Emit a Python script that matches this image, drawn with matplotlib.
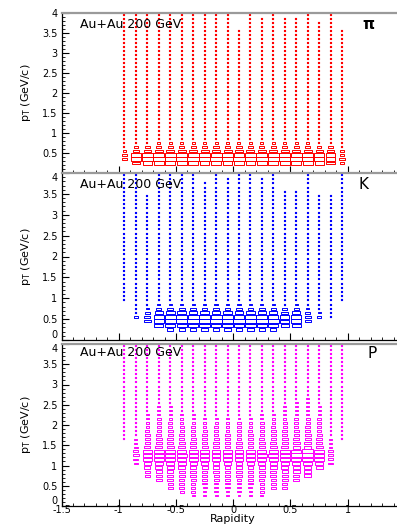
import numpy as np
import matplotlib
matplotlib.use("Agg")
import matplotlib.pyplot as plt
from matplotlib.patches import Rectangle
from matplotlib.collections import PatchCollection
from matplotlib.path import Path

# bins: rapidity -1..1 (0.1 wide), pT 0..4 (0.1 wide)
y_centers = [-0.95, -0.85, -0.75, -0.65, -0.55, -0.45, -0.35, -0.25, -0.15, -0.05,
             0.05, 0.15, 0.25, 0.35, 0.45, 0.55, 0.65, 0.75, 0.85, 0.95]
pt_centers = [0.05, 0.15, 0.25, 0.35, 0.45, 0.55, 0.65, 0.75, 0.85, 0.95,
              1.05, 1.15, 1.25, 1.35, 1.45, 1.55, 1.65, 1.75, 1.85, 1.95,
              2.05, 2.15, 2.25, 2.35, 2.45, 2.55, 2.65, 2.75, 2.85, 2.95,
              3.05, 3.15, 3.25, 3.35, 3.45, 3.55, 3.65, 3.75, 3.85, 3.95]

# box size (fraction of the bin) along pT for a central rapidity column
pion_profile = [0, 0, 0.85, 1.0, 0.95, 0.7, 0.45, 0.26, 0.2, 0.18,
                0.18, 0.17, 0.17, 0.17, 0.16, 0.16, 0.16, 0.16, 0.15, 0.15,
                0.15, 0.15, 0.15, 0.15, 0.14, 0.14, 0.14, 0.14, 0.14, 0.14,
                0.14, 0.14, 0.13, 0.13, 0.13, 0.13, 0.13, 0.13, 0.13, 0.13]
kaon_profile = [0, 0, 0.55, 0.9, 1.0, 0.95, 0.75, 0.5, 0.28, 0.2,
                0.19, 0.19, 0.18, 0.18, 0.18, 0.17, 0.17, 0.17, 0.16, 0.16,
                0.16, 0.16, 0.15, 0.15, 0.15, 0.15, 0.15, 0.14, 0.14, 0.14,
                0.14, 0.14, 0.14, 0.14, 0.13, 0.13, 0.13, 0.13, 0.13, 0.13]
proton_profile = [0, 0, 0.3, 0.38, 0.42, 0.45, 0.5, 0.52, 0.55, 0.6,
                  0.7, 0.85, 0.9, 0.85, 0.6, 0.55, 0.5, 0.45, 0.4, 0.35,
                  0.32, 0.3, 0.28, 0.26, 0.25, 0.24, 0.23, 0.22, 0.21, 0.2,
                  0.2, 0.19, 0.19, 0.18, 0.18, 0.17, 0.17, 0.16, 0.16, 0.16]

# per rapidity column: lowest pT edge, highest pT edge, size scale
pion_lo = [0.3, 0.2, 0.2, 0.2, 0.2, 0.2, 0.2, 0.2, 0.2, 0.2,
           0.2, 0.2, 0.2, 0.2, 0.2, 0.2, 0.2, 0.2, 0.2, 0.2]
pion_hi = [4.0, 4.0, 4.0, 4.0, 4.0, 4.0, 4.0, 4.0, 4.0, 4.0,
           3.6, 4.0, 3.9, 4.0, 3.9, 3.9, 4.0, 3.8, 4.0, 3.6]
pion_scale = [0.45, 0.85, 0.95, 1.0, 1.0, 1.0, 1.0, 1.0, 1.0, 1.0,
              1.0, 1.0, 1.0, 1.0, 1.0, 1.0, 1.0, 0.9, 0.85, 0.45]

kaon_lo = [0.9, 0.5, 0.4, 0.3, 0.2, 0.2, 0.2, 0.2, 0.2, 0.2,
           0.2, 0.2, 0.2, 0.2, 0.3, 0.3, 0.4, 0.5, 0.5, 0.9]
kaon_hi = [4.0, 4.0, 3.5, 4.0, 4.0, 4.0, 4.0, 3.8, 4.0, 3.9,
           4.0, 4.0, 3.9, 4.0, 3.6, 3.6, 4.0, 3.5, 3.5, 4.0]
kaon_scale = [0.2, 0.3, 0.55, 0.9, 1.0, 1.0, 1.0, 1.0, 1.0, 1.0,
              1.0, 1.0, 1.0, 0.95, 0.8, 0.9, 0.55, 0.35, 0.25, 0.2]

proton_lo = [1.6, 1.0, 0.7, 0.6, 0.4, 0.3, 0.2, 0.2, 0.2, 0.2,
             0.2, 0.2, 0.2, 0.4, 0.4, 0.6, 0.7, 0.9, 1.0, 1.6]
proton_hi = [4.0] * 20
proton_scale = [0.25, 0.5, 0.9, 1.0, 1.0, 0.95, 0.9, 0.85, 0.85, 0.85,
                0.85, 0.85, 0.9, 0.95, 1.0, 1.05, 1.1, 1.0, 0.55, 0.25]

particles = [
    ("π", pion_profile, pion_lo, pion_hi, pion_scale, "#ff0000"),
    ("K", kaon_profile, kaon_lo, kaon_hi, kaon_scale, "#0000ff"),
    ("P", proton_profile, proton_lo, proton_hi, proton_scale, "#ff00ff"),
]

xtick_vals = [-1.5, -1, -0.5, 0, 0.5, 1, 1.5]
xtick_labels = ["-1.5", "-1", "-0.5", "0", "0.5", "1", ""]
ytick_vals = [0, 0.5, 1, 1.5, 2, 2.5, 3, 3.5, 4]
ytick_labels = ["0", "0.5", "1", "1.5", "2", "2.5", "3", "3.5", "4"]

# small flat dash marker for nearly empty bins
dash = Path([(-1, -0.5), (1, -0.5), (1, 0.5), (-1, 0.5), (-1, -0.5)],
            [Path.MOVETO, Path.LINETO, Path.LINETO, Path.LINETO, Path.CLOSEPOLY])

W, H = 397, 524
fig = plt.figure(figsize=(W / 100, H / 100), dpi=100)
fig.patch.set_facecolor("white")

# panel frames in pixels: (top, bottom)
frames = [(13, 173), (173, 340), (344, 506)]
label_pos = [(0.93, 0.93), (0.93, 0.93), (0.945, 0.94)]
left_px, width_px = 61.5, 343.5
bin_w, bin_h = 0.1, 0.1

for n, (name, prof, lo, hi, scale, col) in enumerate(particles):
    top, bot = frames[n]
    ax = fig.add_axes([left_px / W, 1 - bot / H, width_px / W, (bot - top) / H])
    ax.set_xlim(-1.5, 1.5)
    ax.set_ylim(0, 4)

    boxes, dx, dy = [], [], []
    for k, yc in enumerate(y_centers):
        for i, pc in enumerate(pt_centers):
            if prof[i] <= 0 or pc < lo[k] or pc > hi[k]:
                continue
            s = prof[i] * scale[k]
            if s < 0.25:
                dx.append(yc)
                dy.append(pc)
            else:
                w, h = s * bin_w, s * bin_h
                boxes.append(Rectangle((yc - w / 2, pc - h / 2), w, h))
    ax.add_collection(PatchCollection(boxes, facecolor="none", edgecolor=col,
                                      linewidth=0.7))
    ax.plot(dx, dy, ls="none", marker=dash, markersize=1.5, color=col,
            markeredgewidth=0.1)

    # ROOT like axes
    for sp in ["top", "right"]:
        ax.spines[sp].set_color("#9a9a9a")
        ax.spines[sp].set_linewidth(1.6)
    ax.spines["left"].set_linewidth(0.9)
    ax.spines["bottom"].set_linewidth(0.9)
    ax.set_yticks(ytick_vals)
    ylab = list(ytick_labels)
    if n == 0:
        ylab[0] = ""
    ax.set_yticklabels(ylab)
    # keep the "0" above the panel edge so it does not run into the next panel
    ax.get_yticklabels()[0].set_verticalalignment("bottom")
    if n > 0:
        ax.get_yticklabels()[-1].set_verticalalignment("top")
    ax.set_yticks(np.arange(0, 4.01, 0.1), minor=True)
    ax.set_xticks(xtick_vals)
    ax.set_xticks(np.arange(-1.5, 1.51, 0.1), minor=True)
    if n == 2:
        ax.set_xticklabels(xtick_labels)
    else:
        ax.set_xticklabels([])
    ax.tick_params(which="both", direction="in", top=False, right=False,
                   labelsize=7, pad=3)
    ax.tick_params(axis="x", pad=-1)
    ax.tick_params(which="major", length=5, width=0.8)
    ax.tick_params(which="minor", length=2.5, width=0.6)

    ax.set_ylabel(r"p$_{\rm T}$ (GeV/c)", fontsize=8)
    ax.yaxis.set_label_coords(-0.083, 0.5)

    ax.text(0.054, label_pos[n][0], "Au+Au 200 GeV", transform=ax.transAxes,
            fontsize=9, va="center", ha="left")
    ax.text(0.88 if name == "K" else (0.892 if name == "π" else 0.905), label_pos[n][1],
            name, transform=ax.transAxes, fontsize=11,
            fontweight="bold" if name == "π" else "normal", ha="center", va="center")

fig.text(233 / W, 1 - 518.5 / H, "Rapidity", fontsize=8, ha="center", va="center")

fig.savefig("out.png", dpi=100)
